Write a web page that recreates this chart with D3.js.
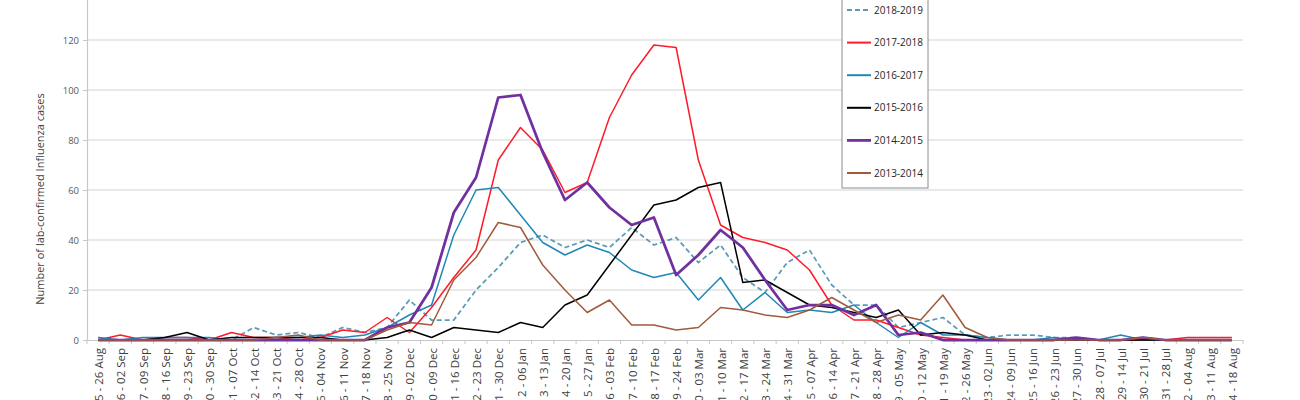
<!DOCTYPE html>
<html><head><meta charset="utf-8">
<script src="https://cdn.jsdelivr.net/npm/d3@7"></script>
<style>
html,body{margin:0;padding:0;background:#fff;}
svg{display:block;font-family:"Open Sans",sans-serif;}
</style></head>
<body><svg id="c" width="1300" height="400"></svg>
<script>
const weeks = ["35 - 26 Aug","36 - 02 Sep","37 - 09 Sep","38 - 16 Sep","39 - 23 Sep","40 - 30 Sep","41 - 07 Oct","42 - 14 Oct","43 - 21 Oct","44 - 28 Oct","45 - 04 Nov","46 - 11 Nov","47 - 18 Nov","48 - 25 Nov","49 - 02 Dec","50 - 09 Dec","51 - 16 Dec","52 - 23 Dec","1 - 30 Dec","2 - 06 Jan","3 - 13 Jan","4 - 20 Jan","5 - 27 Jan","6 - 03 Feb","7 - 10 Feb","8 - 17 Feb","9 - 24 Feb","10 - 03 Mar","11 - 10 Mar","12 - 17 Mar","13 - 24 Mar","14 - 31 Mar","15 - 07 Apr","16 - 14 Apr","17 - 21 Apr","18 - 28 Apr","19 - 05 May","20 - 12 May","21 - 19 May","22 - 26 May","23 - 02 Jun","24 - 09 Jun","25 - 16 Jun","26 - 23 Jun","27 - 30 Jun","28 - 07 Jul","29 - 14 Jul","30 - 21 Jul","31 - 28 Jul","32 - 04 Aug","33 - 11 Aug","34 - 18 Aug"];

const s2018_2019 = [1,0,0,0,0,0,0,5,2,3,1,5,3,5,16,8,8,20,29,39,42,37,40,37,45,38,41,31,38,25,19,31,36,22,14,14,5,7,9,2,1,2,2,1,1,0,0,0,0,0,0,0];
const s2017_2018 = [0,2,0,1,1,0,3,1,1,0,1,4,3,9,3,13,25,36,72,85,76,59,63,89,106,118,117,72,46,41,39,36,28,14,8,8,5,2,1,0,0,0,0,0,0,0,0,0,0,1,1,1];
const s2016_2017 = [1,0,1,1,1,1,0,0,1,1,2,1,2,5,10,14,42,60,61,50,39,34,38,35,28,25,27,16,25,12,19,11,12,11,14,7,1,7,2,2,1,0,0,1,0,0,2,0,0,0,0,0];
const s2015_2016 = [0,0,0,1,3,0,1,1,1,1,1,0,0,1,4,1,5,4,3,7,5,14,18,30,42,54,56,61,63,23,24,19,14,13,11,9,12,2,3,2,0,0,0,0,0,0,0,0,0,0,0,0];
const s2014_2015 = [0,0,0,0,0,0,0,0,0,0,0,0,0,5,7,21,51,65,97,98,75,56,63,53,46,49,26,34,44,37,24,12,14,14,10,14,2,3,0,0,0,0,0,0,1,0,0,1,0,0,0,0];
const s2013_2014 = [0,0,0,0,0,0,0,0,1,2,0,0,0,4,7,6,24,33,47,45,30,20,11,16,6,6,4,5,13,12,10,9,12,17,12,7,10,8,18,5,1,0,0,0,0,0,0,1,0,0,0,0];

const seriesNames = ["2018-2019","2017-2018","2016-2017","2015-2016","2014-2015","2013-2014"];
const yTicks = [0,20,40,60,80,100,120];

const series = [
  {name: seriesNames[0], values: s2018_2019, color: "#5b9bb5", width: 1.75, dash: "5,3"},
  {name: seriesNames[1], values: s2017_2018, color: "#ff1a2a", width: 1.5, dash: null},
  {name: seriesNames[2], values: s2016_2017, color: "#1f88b4", width: 1.5, dash: null},
  {name: seriesNames[3], values: s2015_2016, color: "#000000", width: 1.5, dash: null},
  {name: seriesNames[4], values: s2014_2015, color: "#7030a0", width: 2.75, dash: null},
  {name: seriesNames[5], values: s2013_2014, color: "#a05a3c", width: 1.5, dash: null}
];

const svg = d3.select("#c");
const left = 87, right = 1243, y0 = 340;

const x = d3.scaleBand().domain(weeks).range([left, right]).paddingInner(0).paddingOuter(0);
const y = d3.scaleLinear().domain([0, 140]).range([y0, -10]);

// gridlines
svg.append("g").selectAll("line").data(yTicks.filter(d => d > 0)).join("line")
  .attr("x1", left).attr("x2", right)
  .attr("y1", d => y(d)).attr("y2", d => y(d))
  .attr("stroke", "#d4d4d4").attr("stroke-width", 1.2);

// y axis
const yAxis = svg.append("g").attr("transform", `translate(${left},0)`)
  .call(d3.axisLeft(y).tickValues(yTicks).tickSize(4).tickPadding(4));
yAxis.select(".domain").attr("stroke", "#c8c8c8").attr("stroke-width", 1.2);
yAxis.selectAll(".tick line").attr("stroke", "#c8c8c8");
yAxis.selectAll(".tick text").attr("fill", "#595959").style("font-size", "9.5px").style("font-family", "Open Sans");

// x axis
const xAxis = svg.append("g").attr("transform", `translate(0,${y0})`)
  .call(d3.axisBottom(x).tickSize(0).tickFormat(""));
xAxis.select(".domain").attr("stroke", "#c8c8c8").attr("stroke-width", 1.2);
const bounds = weeks.map(w => x(w)).concat([right]);
svg.append("g").selectAll("line").data(bounds).join("line")
  .attr("x1", d => d).attr("x2", d => d).attr("y1", y0).attr("y2", y0 + 4)
  .attr("stroke", "#c8c8c8").attr("stroke-width", 1);

svg.append("g").selectAll("text").data(weeks).join("text")
  .attr("transform", d => `translate(${x(d) + x.bandwidth()/2 + 1},${y0 + 8}) rotate(-90)`)
  .attr("text-anchor", "end").attr("dy", "0.35em")
  .attr("fill", "#404040").style("font-size", "11.5px")
  .text(d => d);

// y title
svg.append("text")
  .attr("transform", "translate(40,199) rotate(-90)")
  .attr("text-anchor", "middle").attr("dy", "0.35em")
  .attr("fill", "#404040").style("font-size", "11px")
  .text("Number of lab-confirmed Influenza cases");

// lines
const line = d3.line().x((d, i) => x(weeks[i]) + x.bandwidth()/2).y(d => y(d));
series.forEach(s => {
  svg.append("path").datum(s.values)
    .attr("d", line).attr("fill", "none")
    .attr("stroke", s.color).attr("stroke-width", s.width)
    .attr("stroke-linejoin", "round")
    .attr("stroke-dasharray", s.dash);
});

// legend
const lg = svg.append("g");
lg.append("rect").attr("x", 842).attr("y", -20).attr("width", 86).attr("height", 208)
  .attr("fill", "#fff").attr("stroke", "#8c8c8c").attr("stroke-width", 1);
series.forEach((s, i) => {
  const ly = 10 + i * 32.6;
  lg.append("line").attr("x1", 847).attr("x2", 871).attr("y1", ly).attr("y2", ly)
    .attr("stroke", s.color).attr("stroke-width", s.width < 2 ? 2 : s.width)
    .attr("stroke-dasharray", s.dash);
  lg.append("text").attr("x", 874).attr("y", ly).attr("dy", "0.35em")
    .attr("fill", "#262626").style("font-size", "10px").text(s.name);
});
</script></body></html>
